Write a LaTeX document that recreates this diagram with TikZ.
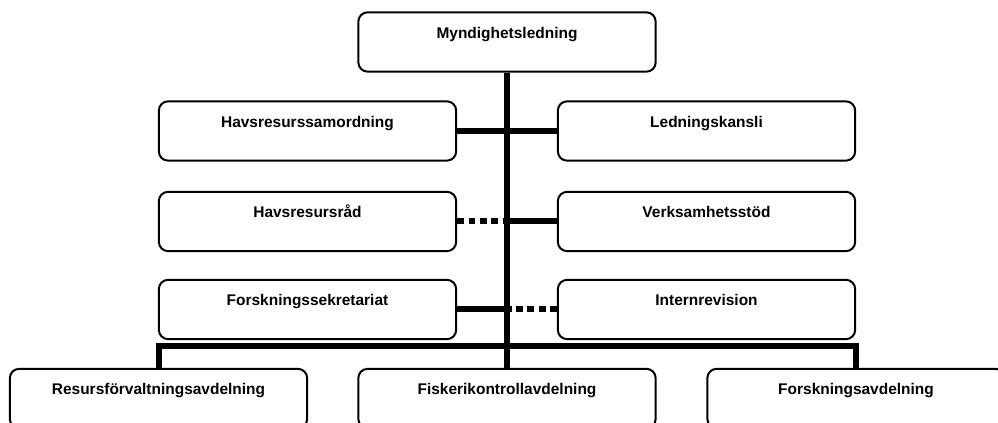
\documentclass[tikz,border=0pt]{standalone}
\usepackage{fontspec}
\setmainfont{Liberation Sans}
\usepackage{tikz}

\begin{document}
\begin{tikzpicture}[x=0.75pt,y=-0.75pt]
  \tikzstyle{unit}=[draw,line width=1.5pt,rounded corners=7pt,minimum width=223pt,inner sep=0pt,text height=19.5pt,text depth=25pt,font=\fontsize{11.6}{14}\selectfont\bfseries]
  \tikzstyle{link}=[line width=4.5pt]
  \tikzstyle{dotlink}=[line width=4.5pt,dash pattern=on 5.2pt off 3.3pt]

  \clip (0,0) rectangle (998,423);

  \node[unit] (mynd) at (507,42) {Myndighetsledning};

  \node[unit] (havsam) at (307.5,131) {Havsresurssamordning};
  \node[unit] (ledn) at (706.5,131) {Ledningskansli};
  \node[unit] (hrad) at (307.5,221.5) {Havsresursråd};
  \node[unit] (verks) at (706.5,221.5) {Verksamhetsstöd};
  \node[unit] (fsek) at (307.5,309.5) {Forskningssekretariat};
  \node[unit] (intern) at (706.5,309.5) {Internrevision};

  \node[unit] (resurs) at (158.5,398.5) {Resursförvaltningsavdelning};
  \node[unit] (fisk) at (507,398.5) {Fiskerikontrollavdelning};
  \node[unit] (forskavd) at (856,398.5) {Forskningsavdelning};

  \coordinate (bus) at (507,346);

  \draw[link] (mynd.south) -- (fisk.north);

  \draw[link] (havsam.east) -- (ledn.west);
  \draw[dotlink] (hrad.east) -- (hrad.east -| mynd.south);
  \draw[link] (verks.west) -- (verks.west -| mynd.south);
  \draw[link] (fsek.east) -- (fsek.east -| mynd.south);
  \draw[dotlink] (intern.west) -- (intern.west -| mynd.south);

  \draw[link] (resurs.north) |- (bus) -| (forskavd.north);
\end{tikzpicture}
\end{document}
